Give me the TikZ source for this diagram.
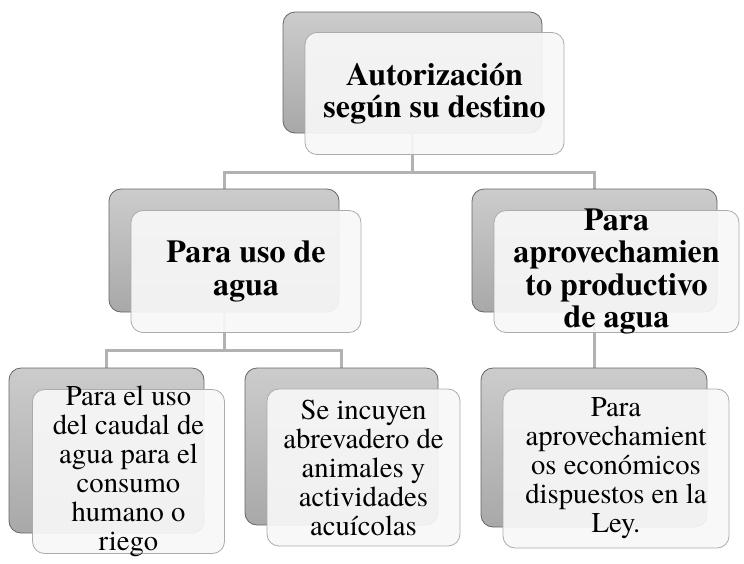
\documentclass[tikz,border=0pt]{standalone}
\usepackage{fontspec}
\IfFontExistsTF{texgyretermes-regular.otf}{%
	\setmainfont{texgyretermes}[Extension=.otf, UprightFont=*-regular, BoldFont=*-bold, ItalicFont=*-italic, BoldItalicFont=*-bolditalic]}{%
	\setmainfont{Liberation Serif}}
\usepackage{xcolor}
\usepackage{tikz}
\usetikzlibrary{positioning, calc, backgrounds}
\definecolor{boxtop}{rgb}{0.80,0.80,0.80}
\definecolor{boxbot}{rgb}{0.66,0.66,0.66}
\definecolor{linkgray}{rgb}{0.70,0.70,0.70}

\begin{document}
\begin{tikzpicture}[x=1pt, y=-1pt,
		backbox/.style={rectangle, rounded corners=12pt, draw=black!60, line width=0.8pt, top color=boxtop, bottom color=boxbot},
		frontbox/.style={rectangle, rounded corners=12pt, draw=black!33, line width=0.8pt, fill=white!97!black, fill opacity=0.93, xshift=22pt, yshift=-21pt},
		headtxt/.style={align=center, inner sep=0pt, font=\bfseries\fontsize{32}{32.5}\selectfont},
		itemtxt/.style={align=center, inner sep=0pt, font=\fontsize{28.7}{29}\selectfont},
		link/.style={draw=linkgray, line width=3pt}]
		\useasboundingbox (0,0) rectangle (744,563);

		% level 1
		\node[backbox, minimum width=259pt, minimum height=121pt] (top-b) at (412.5,72.5) {};
		\node[frontbox, minimum width=259pt, minimum height=122pt] (top-f) at (top-b) {};
		\node[headtxt] (top-t) at (top-f) {Autorización\\según su destino};

		% level 2
		\node[backbox, minimum width=230pt, minimum height=123pt] (uso-b) at (224,250.5) {};
		\node[frontbox, minimum width=230pt, minimum height=122pt] (uso-f) at (uso-b) {};
		\node[headtxt] (uso-t) at (uso-f) {Para uso de\\agua};

		\node[backbox, minimum width=245pt, minimum height=123pt] (prod-b) at (594.5,250.5) {};
		\node[frontbox, minimum width=245pt, minimum height=122pt] (prod-f) at (prod-b) {};
		\node[headtxt] (prod-t) at (prod-f) {Para\\aprovechamien\\to productivo\\de agua};

		% level 3
		\node[backbox, minimum width=195pt, minimum height=165pt] (cons-b) at (106.5,450.5) {};
		\node[frontbox, minimum width=192pt, minimum height=164pt] (cons-f) at (cons-b) {};
		\node[itemtxt] (cons-t) at (cons-f) {Para el uso\\del caudal de\\agua para el\\consumo\\humano o\\riego};

		\node[backbox, minimum width=193pt, minimum height=157pt] (abre-b) at (341.5,446.5) {};
		\node[frontbox, minimum width=193pt, minimum height=157pt] (abre-f) at (abre-b) {};
		\node[itemtxt] (abre-t) at (abre-f) {Se incuyen\\abrevadero de\\animales y\\actividades\\acuícolas};

		\node[backbox, minimum width=226pt, minimum height=159pt] (ley-b) at (594,447.5) {};
		\node[frontbox, minimum width=226pt, minimum height=159pt] (ley-f) at (ley-b) {};
		\node[itemtxt] (ley-t) at (ley-f) {Para\\aprovechamient\\os económicos\\dispuestos en la\\Ley.};

		\coordinate (row1) at (0,172);
		\coordinate (row2) at (0,350);

		\begin{scope}[on background layer]
			\draw[link] (top-b.south) -- (top-b |- row1) -| (uso-b.north);
			\draw[link] (top-b |- row1) -| (prod-b.north);
			\draw[link] (uso-b.south) -- (uso-b |- row2) -| (cons-b.north);
			\draw[link] (uso-b |- row2) -| (abre-b.north);
			\draw[link] (prod-b.south) -- (prod-b |- ley-b.north);
		\end{scope}
	\end{tikzpicture}
\end{document}
